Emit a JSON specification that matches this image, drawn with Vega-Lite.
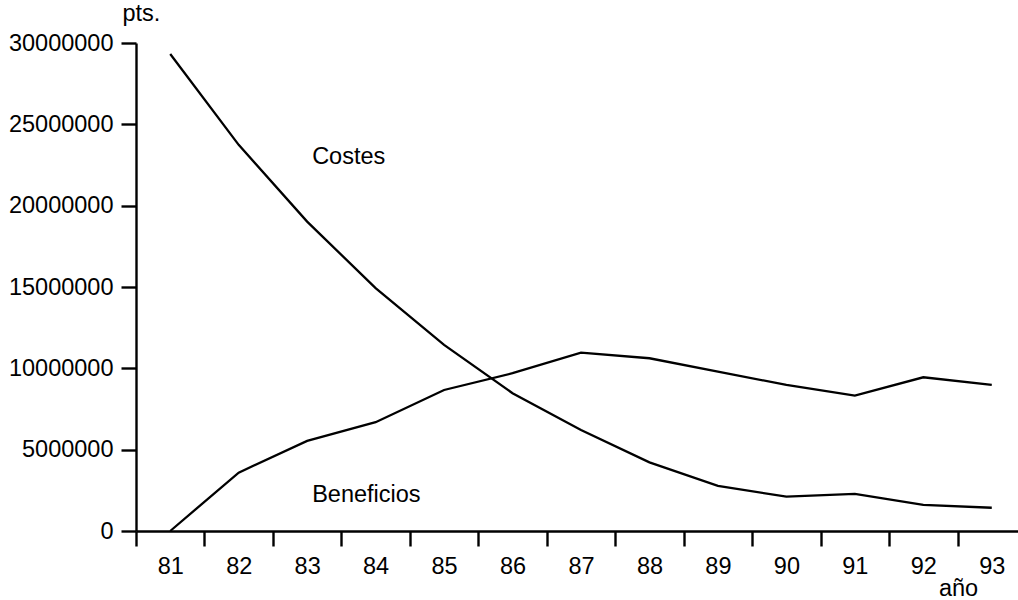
{
  "$schema": "https://vega.github.io/schema/vega-lite/v6.json",
  "width": 882,
  "height": 488,
  "autosize": {"type": "none"},
  "padding": {"left": 136, "top": 43, "right": 0, "bottom": 69},
  "background": "white",
  "config": {
    "font": "Liberation Sans",
    "view": {"stroke": null},
    "axis": {
      "grid": false,
      "domainColor": "black",
      "domainWidth": 2.4,
      "tickColor": "black",
      "tickWidth": 2.4,
      "tickSize": 15,
      "labelColor": "black",
      "labelFontSize": 23.5,
      "titleColor": "black",
      "titleFontSize": 23.5,
      "titleFontWeight": "normal"
    }
  },
  "layer": [
    {
      "data": {
        "values": [
          {"year": "81", "serie": "Costes", "value": 29320000},
          {"year": "82", "serie": "Costes", "value": 23740000},
          {"year": "83", "serie": "Costes", "value": 19020000},
          {"year": "84", "serie": "Costes", "value": 14930000},
          {"year": "85", "serie": "Costes", "value": 11440000},
          {"year": "86", "serie": "Costes", "value": 8470000},
          {"year": "87", "serie": "Costes", "value": 6210000},
          {"year": "88", "serie": "Costes", "value": 4220000},
          {"year": "89", "serie": "Costes", "value": 2770000},
          {"year": "90", "serie": "Costes", "value": 2110000},
          {"year": "91", "serie": "Costes", "value": 2280000},
          {"year": "92", "serie": "Costes", "value": 1600000},
          {"year": "93", "serie": "Costes", "value": 1430000},
          {"year": "81", "serie": "Beneficios", "value": 0},
          {"year": "82", "serie": "Beneficios", "value": 3590000},
          {"year": "83", "serie": "Beneficios", "value": 5540000},
          {"year": "84", "serie": "Beneficios", "value": 6690000},
          {"year": "85", "serie": "Beneficios", "value": 8670000},
          {"year": "86", "serie": "Beneficios", "value": 9700000},
          {"year": "87", "serie": "Beneficios", "value": 10970000},
          {"year": "88", "serie": "Beneficios", "value": 10620000},
          {"year": "89", "serie": "Beneficios", "value": 9800000},
          {"year": "90", "serie": "Beneficios", "value": 8980000},
          {"year": "91", "serie": "Beneficios", "value": 8320000},
          {"year": "92", "serie": "Beneficios", "value": 9450000},
          {"year": "93", "serie": "Beneficios", "value": 8980000}
        ]
      },
      "mark": {"type": "line", "color": "black", "strokeWidth": 2.3},
      "encoding": {
        "x": {
          "field": "year",
          "type": "ordinal",
          "scale": {"type": "band", "paddingInner": 0, "paddingOuter": 0, "range": [0, 890]},
          "axis": {
            "title": "año",
            "tickBand": "extent",
            "labelAngle": 0,
            "labelPadding": 27,
            "labelBaseline": "alphabetic",
            "titleX": 822,
            "titleY": 64,
            "titleAlign": "center",
            "titleBaseline": "alphabetic"
          }
        },
        "y": {
          "field": "value",
          "type": "quantitative",
          "scale": {"domain": [0, 30000000], "nice": false},
          "axis": {
            "values": [0, 5000000, 10000000, 15000000, 20000000, 25000000, 30000000],
            "format": "d",
            "title": "pts.",
            "titleAngle": 0,
            "titleX": -14,
            "titleY": -23,
            "titleAlign": "left",
            "titleBaseline": "alphabetic",
            "labelPadding": 8
          }
        },
        "detail": {"field": "serie"}
      }
    },
    {
      "data": {
        "values": [
          {"year": "83", "value": 22570000, "label": "Costes"},
          {"year": "83", "value": 1780000, "label": "Beneficios"}
        ]
      },
      "mark": {"type": "text", "align": "left", "baseline": "alphabetic", "dx": 5, "fontSize": 23.5, "color": "black"},
      "encoding": {
        "x": {"field": "year", "type": "ordinal"},
        "y": {"field": "value", "type": "quantitative"},
        "text": {"field": "label"}
      }
    }
  ]
}
